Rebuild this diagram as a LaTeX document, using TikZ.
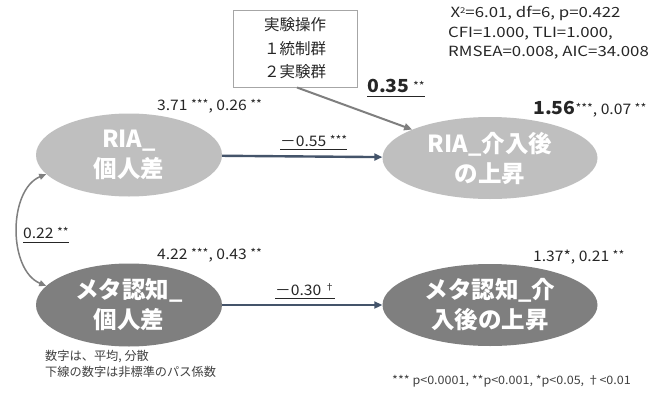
\documentclass[tikz,border=0pt]{standalone}
\usepackage{fontspec}
\setmainfont{Noto Sans CJK JP}
\newfontfamily\latwide[FakeStretch=1.08]{Noto Sans CJK JP}
\newfontfamily\fitwide[FakeStretch=1.2]{Noto Sans CJK JP}
\usetikzlibrary{shapes.geometric,arrows.meta}
\definecolor{lightel}{HTML}{BFBFBF}
\definecolor{darkel}{HTML}{7F7F7F}
\definecolor{bluearr}{HTML}{44546A}
\definecolor{grayarr}{HTML}{7F7F7F}
\definecolor{txt}{HTML}{262626}
\definecolor{notetxt}{HTML}{404040}
\definecolor{boxline}{HTML}{A6A6A6}
\newcommand{\bignum}[1]{{\fontsize{18}{20}\selectfont\bfseries #1}}
\newcommand{\sups}[1]{\raisebox{2pt}{\fontsize{11.5}{12}\selectfont #1}}
\newcommand{\supd}[1]{\raisebox{5pt}{\fontsize{9}{10}\selectfont #1}}
\newcommand{\supn}[1]{\raisebox{4pt}{\fontsize{8}{9}\selectfont #1}}
\tikzset{
  latent/.style={ellipse, inner sep=0pt, minimum width=186pt, minimum height=83pt, text=white,
    font=\fontsize{23.5}{30}\selectfont\bfseries, align=center},
  latentR/.style={latent, minimum width=215pt, minimum height=82pt},
  lab/.style={font=\latwide\fontsize{14.5}{17}\selectfont, text=txt, inner sep=0pt, anchor=base west},
  ul/.style={draw=txt, line width=0.9pt},
  bluepath/.style={draw=bluearr, line width=2.4pt, -{Triangle[length=8pt,width=7pt]}},
  graypath/.style={draw=grayarr, line width=2pt, -{Triangle[length=8pt,width=7pt]}},
  corrpath/.style={draw=grayarr, line width=1.5pt, {Triangle[length=7pt,width=6pt]}-{Triangle[length=7pt,width=6pt]}},
  note/.style={font=\fontsize{12.2}{16}\selectfont, text=notetxt, inner sep=0pt, anchor=base west, align=left},
}
\begin{document}
\begin{tikzpicture}[x=1pt,y=-1pt]
\useasboundingbox (0,0) rectangle (670,394);
\fill[white] (0,0) rectangle (670,394);

% latent variables
\node[latent, fill=lightel] (ria) at (129,155) {RIA\_\\個人差};
\node[latentR, fill=lightel] (riapost) at (490,158) {RIA\_介入後\\の上昇};
\node[latent, fill=darkel] (meta) at (129,305) {メタ認知\_\\個人差};
\node[latentR, fill=darkel] (metapost) at (490,305) {メタ認知\_介\\入後の上昇};

% manipulation box
\node[draw=boxline, line width=1pt, minimum width=124pt, minimum height=77pt, inner sep=0pt,
      align=center, text=txt, font=\fontsize{15.5}{23.5}\selectfont] (exp) at (295,48.5)
      {実験操作\\１統制群\\２実験群};

% paths
\draw[bluepath] (ria) -- (riapost);
\draw[bluepath] (meta) -- (metapost);
\draw[graypath] ([xshift=2pt]exp.south) -- (riapost);
\draw[corrpath] (ria.193) .. controls (8,190) and (8,270) .. (meta.167);

% labels
\node[lab] (l371) at (157,110) {3.71 \sups{***}, 0.26 \sups{**}};
\node[lab] (l156) at (533,114) {\bignum{1.56}\sups{***}, 0.07 \sups{**}};
\node[lab] (l035) at (367,92) {\bignum{0.35} \sups{**}};
\draw[ul] ([yshift=-4pt]l035.base west) -- ([yshift=-4pt]l035.base east);
\node[lab] (l055) at (280,146.5) {－0.55 \sups{***}};
\draw[ul] ([yshift=-3pt]l055.base west) -- ([yshift=-3pt]l055.base east);
\node[lab] (l022) at (23,238) {0.22 \sups{**}};
\draw[ul] ([yshift=-4pt]l022.base west) -- ([yshift=-4pt]l022.base east);
\node[lab] (l422) at (157,259) {4.22 \sups{***}, 0.43 \sups{**}};
\node[lab] (l030) at (275,295) {－0.30 \supd{†}};
\draw[ul] ([yshift=-3pt]l030.base west) -- ([yshift=-3pt]l030.base east);
\node[lab] (l137) at (533,261) {1.37*, 0.21 \sups{**}};

% fit statistics
\node[note, font=\fitwide\fontsize{14}{19.5}\selectfont, text=txt, anchor=north west] (fit) at (448,6)
  {\,X\supn{2}=6.01, df=6, p=0.422\\CFI=1.000, TLI=1.000,\\RMSEA=0.008, AIC=34.008};

% notes
\node[note] (n1) at (45,376) {数字は、平均, 分散\\下線の数字は非標準のパス係数};
\node[note, font=\latwide\fontsize{11.6}{14}\selectfont] (n2) at (392,384) {*** p<0.0001, **p<0.001, *p<0.05, †<0.01};
\end{tikzpicture}
\end{document}
